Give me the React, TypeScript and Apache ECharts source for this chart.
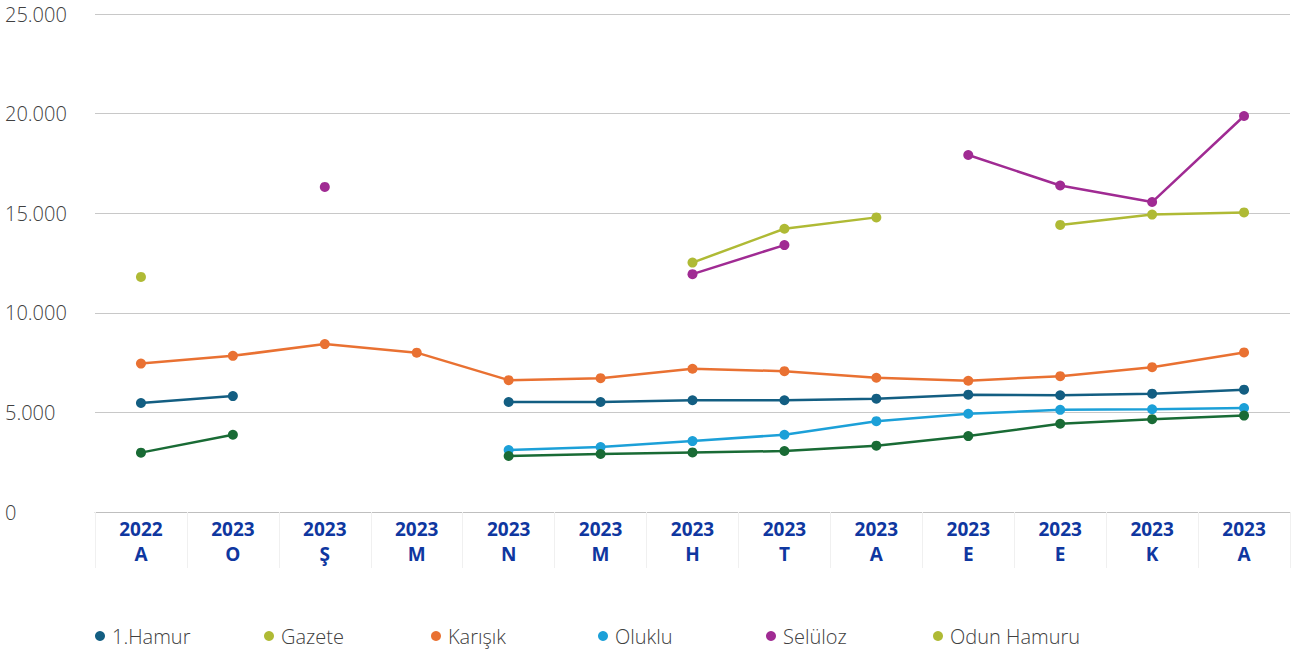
import React, { useEffect, useRef } from "react";
import * as echarts from "echarts";

const categories = ["2022\nA", "2023\nO", "2023\nŞ", "2023\nM", "2023\nN", "2023\nM", "2023\nH", "2023\nT", "2023\nA", "2023\nE", "2023\nE", "2023\nK", "2023\nA"];

const hamur = [5470, 5820, null, null, 5520, 5520, 5610, 5610, 5690, 5890, 5860, 5940, 6140];
const gazete = [11800, null, null, null, null, null, 12520, 14220, 14790, null, 14410, 14930, 15040];
const karisik = [7450, 7840, 8430, 8000, 6620, 6720, 7190, 7070, 6740, 6590, 6820, 7270, 8010];
const oluklu = [null, null, null, null, 3110, 3260, 3560, 3880, 4560, 4930, 5130, 5160, 5220];
const seluloz = [null, null, 16320, null, null, null, 11940, 13400, null, 17920, 16390, 15560, 19880];
const odun = [2980, 3880, null, null, 2810, 2910, 2990, 3060, 3330, 3810, 4430, 4660, 4840];

const seriesDefs = [
  { name: "1.Hamur", data: hamur, color: "#135E82", legendColor: "#135E82", left: 90 },
  { name: "Gazete", data: gazete, color: "#AFBA35", legendColor: "#AFBA35", left: 259 },
  { name: "Karışık", data: karisik, color: "#E97132", legendColor: "#E97132", left: 426 },
  { name: "Oluklu", data: oluklu, color: "#1CA0D8", legendColor: "#1CA0D8", left: 593 },
  { name: "Selüloz", data: seluloz, color: "#A02B93", legendColor: "#A02B93", left: 761 },
  { name: "Odun Hamuru", data: odun, color: "#196B35", legendColor: "#AFBA35", left: 928 },
];

export default function App() {
  const ref = useRef<HTMLDivElement>(null);
  useEffect(() => {
    if (!ref.current) return;
    const chart = echarts.init(ref.current, null, { renderer: "svg" });
    chart.setOption({
      animation: false,
      grid: { left: 95, right: 2, top: 14, bottom: 143, containLabel: false },
      legend: seriesDefs.map((s) => ({
        data: [{ name: s.name, itemStyle: { color: s.legendColor } }],
        left: s.left,
        top: 621,
        icon: "circle",
        itemWidth: 14,
        itemHeight: 10,
        selectedMode: false,
        textStyle: { fontFamily: "Open Sans", fontSize: 20, fontWeight: 300, color: "#404040" },
      })),
      xAxis: {
        type: "category",
        data: categories,
        boundaryGap: true,
        axisLine: { lineStyle: { color: "#bfbfbf", width: 1 } },
        axisTick: { show: true, length: 56, lineStyle: { color: "#f0f0f0" } },
        axisLabel: {
          interval: 0,
          margin: 4,
          fontFamily: "Open Sans",
          fontWeight: "bold",
          fontSize: 19,
          lineHeight: 25.5,
          color: "#0F37A0",
        },
      },
      yAxis: {
        type: "value",
        min: 0,
        max: 25000,
        interval: 5000,
        axisLine: { show: false },
        axisTick: { show: false },
        splitLine: { lineStyle: { color: "#c8c8c8", width: 1 } },
        axisLabel: {
          align: "left",
          margin: 90,
          fontFamily: "Open Sans",
          fontSize: 20,
          fontWeight: 300,
          color: "#404040",
          formatter: (v: number) => (v === 0 ? "0" : v.toLocaleString("de-DE")),
        },
      },
      series: seriesDefs.map((s) => ({
        name: s.name,
        type: "line",
        data: s.data,
        connectNulls: false,
        symbol: "circle",
        symbolSize: 10,
        color: s.color,
        lineStyle: { width: 2.5, color: s.color },
        itemStyle: { color: s.color },
      })),
    });
    return () => chart.dispose();
  }, []);
  return (
    <div
      ref={ref}
      style={{ position: "fixed", left: 0, top: 0, width: 1292, height: 655, background: "#fff" }}
    />
  );
}
